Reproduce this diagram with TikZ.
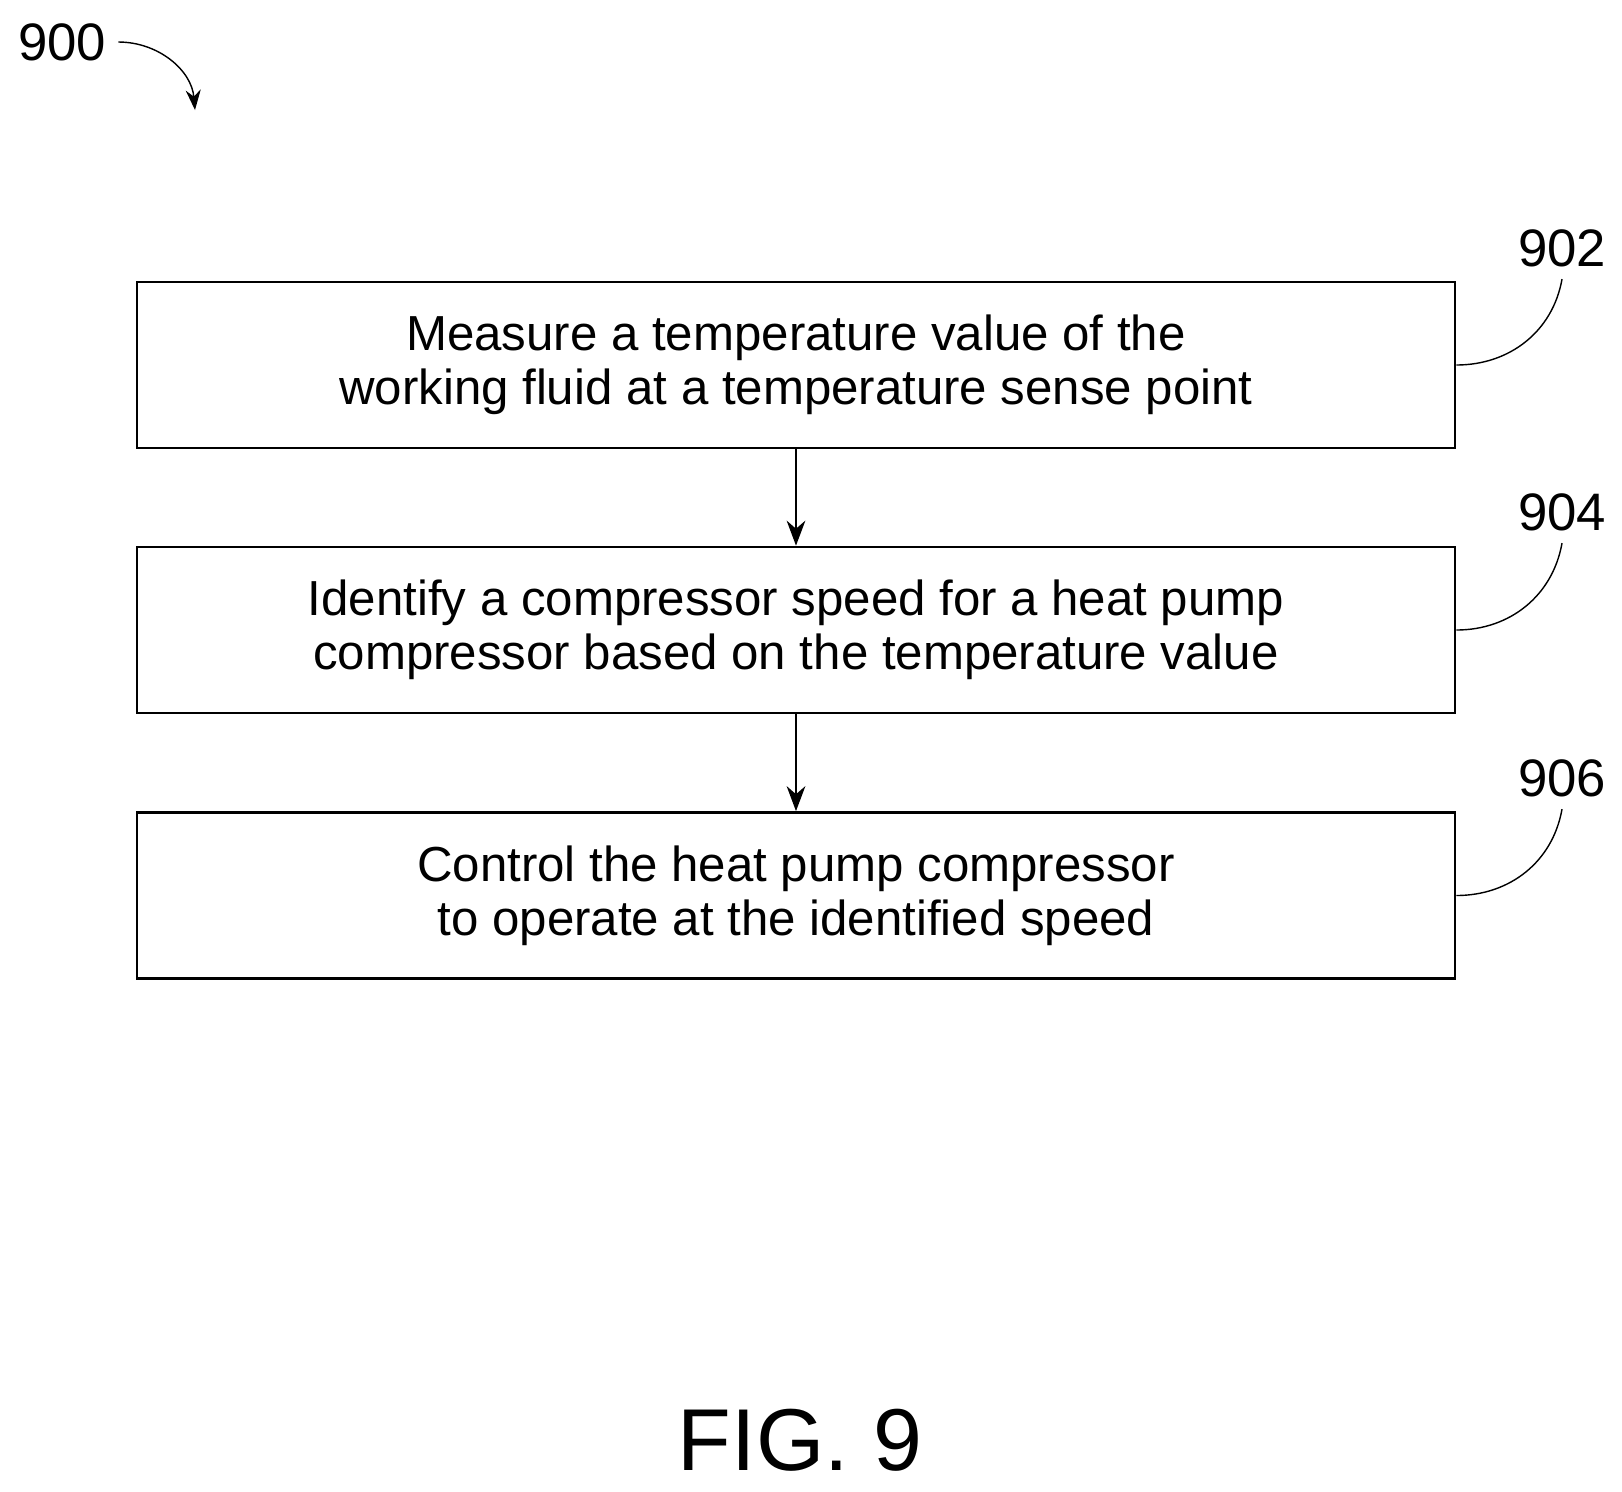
\documentclass[tikz,border=0pt]{standalone}
\usepackage{fontspec}
\setmainfont{Liberation Sans}
\usetikzlibrary{positioning,arrows.meta}
\tikzset{%
  stepbox/.style = {rectangle,draw,thick,minimum width=13.18cm,
        minimum height=1.66cm,align=center,
        font=\fontsize{14}{15.5}\selectfont},
  flow/.style = {-{Stealth[length=2.5mm]},thin},
  lead/.style = {thin},
  tag/.style = {font=\fontsize{15}{16}\selectfont}
}
\begin{document}
\begin{tikzpicture}
        \useasboundingbox (0,0) rectangle (16.22,-14.91);
        % steps
        \node[stepbox] (s902) at (7.96,-3.65) {Measure a temperature value of the\\working fluid at a temperature sense point};
        \node[stepbox] (s904) at (7.96,-6.30) {Identify a compressor speed for a heat pump\\compressor based on the temperature value};
        \node[stepbox] (s906) at (7.96,-8.955) {Control the heat pump compressor\\to operate at the identified speed};
        % transitions
        \draw [flow] (s902) to (s904);
        \draw [flow] (s904) to (s906);
        % reference numerals
        \node[tag] (t900) at (0.62,-0.42) {900};
        \node[tag] (t902) at (15.62,-2.48) {902};
        \node[tag] (t904) at (15.62,-5.12) {904};
        \node[tag] (t906) at (15.62,-7.78) {906};
        \coordinate (c900) at (1.95,-1.10);
        \draw [-{Stealth[length=2mm]},thin] (t900.east) to [out=0,in=95] (c900);
        \draw [lead] (s902.east) to [out=0,in=-100] (t902.south);
        \draw [lead] (s904.east) to [out=0,in=-100] (t904.south);
        \draw [lead] (s906.east) to [out=0,in=-100] (t906.south);
        \node[font=\fontsize{25}{28}\selectfont] (fig) at (8.0,-14.40) {FIG. 9};
    \end{tikzpicture}
\end{document}
